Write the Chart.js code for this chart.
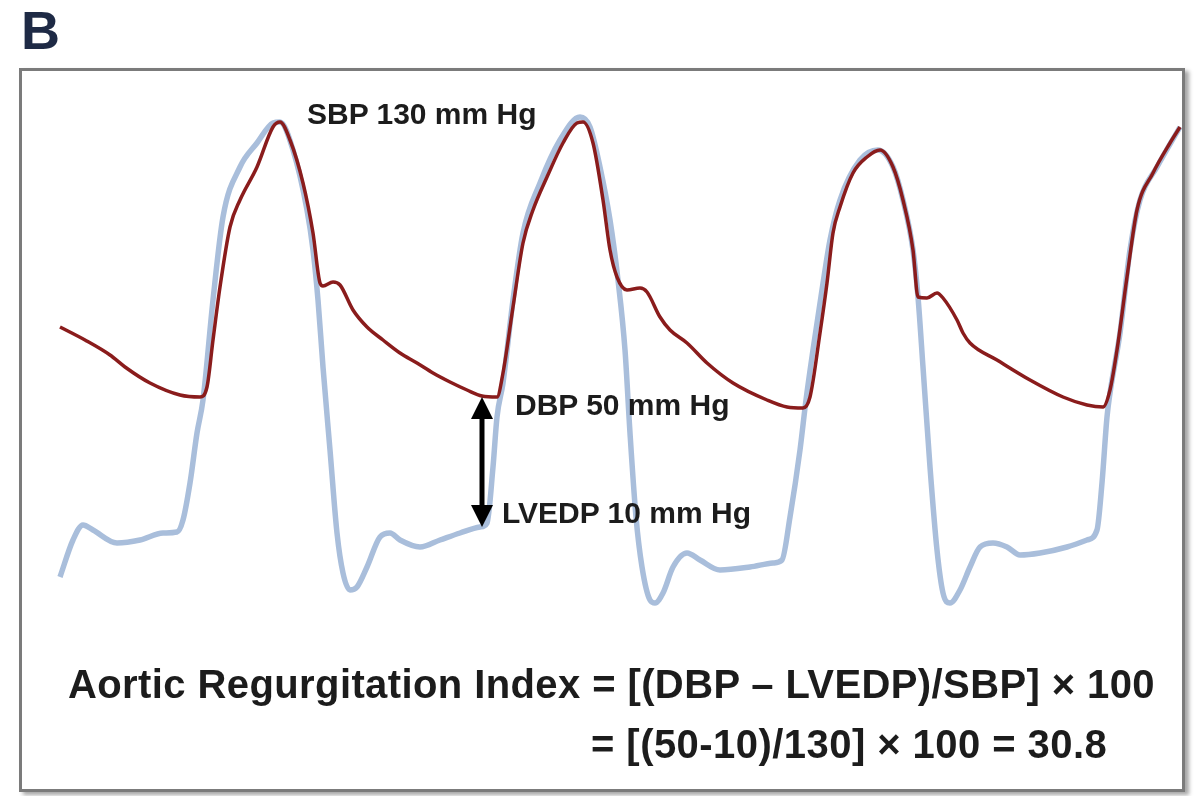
<!DOCTYPE html>
<html lang="en">
<head>
<meta charset="UTF-8">
<title>Aortic Regurgitation Index</title>
<script src="https://cdn.jsdelivr.net/npm/chart.js@4.4.1/dist/chart.umd.min.js"></script>
<style>
  body { margin: 0; width: 1198px; height: 796px; background: #fff; position: relative; overflow: hidden;
         font-family: "Liberation Sans", Arial, sans-serif; }
  #myChart { position: absolute; left: 0; top: 0; }
  .frame { position: absolute; left: 19px; top: 68px; width: 1160px; height: 718px;
           border: 3px solid #7b7b7b; box-shadow: 4px 3px 4px rgba(0,0,0,0.35); }
  .lbl { position: absolute; font-weight: bold; color: #1c1c1c; white-space: nowrap; }
  .small { font-size: 30px; line-height: 30px; }
  .big { font-size: 40px; line-height: 40px; }
  #panel { left: 21px; top: 3px; font-size: 54px; line-height: 54px; color: #1e2a45; }
</style>
</head>
<body>
<canvas id="myChart" width="1198" height="796"></canvas>
<div class="frame"></div>
<div class="lbl" id="panel">B</div>
<div class="lbl small" id="sbpLabel" style="left:307px; top:99px;"></div>
<div class="lbl small" id="dbpLabel" style="left:515px; top:390px;"></div>
<div class="lbl small" id="lvedpLabel" style="left:502px; top:498px;"></div>
<div class="lbl big" id="formula1" style="left:68px; top:664px; letter-spacing:0.4px;"></div>
<div class="lbl big" id="formula2" style="left:591px; top:724px; letter-spacing:0.45px;"></div>

<script>
// time in ms, pressure in mm Hg
const aorticTime = [100, 162.5, 225, 262.5, 325, 400, 450, 467.5, 482.5, 500, 525, 550, 592.5, 632.5, 650, 675, 707.5, 732.5, 750, 757.5, 782.5, 800, 832.5, 867.5, 907.5, 950, 992.5, 1032.5, 1075, 1117.5, 1155, 1192.5, 1207.5, 1232.5, 1257.5, 1282.5, 1317.5, 1357.5, 1392.5, 1407.5, 1432.5, 1457.5, 1475, 1492.5, 1517.5, 1550, 1567.5, 1600, 1625, 1667.5, 1717.5, 1782.5, 1867.5, 1917.5, 1957.5, 1975, 2000, 2017.5, 2032.5, 2050, 2082.5, 2117.5, 2150, 2182.5, 2207.5, 2232.5, 2245, 2267.5, 2292.5, 2307.5, 2342.5, 2357.5, 2375, 2442.5, 2525, 2607.5, 2667.5, 2707.5, 2725, 2742.5, 2767.5, 2792.5, 2832.5, 2875, 2900];
const aorticPressure = [69.9, 66, 61.5, 57.9, 53.1, 49.5, 48.9, 51.9, 66, 81.9, 99.9, 108, 117.9, 129.9, 131.4, 126, 113.1, 98.1, 83.1, 82.2, 83.4, 82.5, 75, 69.9, 66, 62.1, 59.1, 56.1, 53.4, 51, 49.2, 48.9, 56.1, 75.9, 95.1, 105, 114.9, 125.1, 131.1, 131.4, 125.1, 108, 93, 84.9, 81, 81.6, 80.4, 72.9, 69, 65.1, 59.1, 53.1, 48, 45.9, 45.6, 48.9, 68.1, 83.1, 98.1, 105.9, 116.1, 120.9, 123, 117.9, 108, 93, 78.9, 78.6, 80.1, 78.6, 72, 68.1, 65.1, 60, 54, 48.9, 46.5, 45.9, 51, 63, 84.9, 105, 116.1, 125.1, 129.9];

const lvTime = [100, 132.5, 157.5, 182.5, 242.5, 300, 357.5, 392.5, 407.5, 425, 442.5, 457.5, 482.5, 507.5, 550, 592.5, 632.5, 650, 682.5, 717.5, 732.5, 745, 757.5, 775, 792.5, 807.5, 825, 842.5, 867.5, 900, 925, 950, 1000, 1050, 1100, 1150, 1167.5, 1182.5, 1192.5, 1207.5, 1232.5, 1257.5, 1300, 1350, 1400, 1425, 1450, 1475, 1495, 1512.5, 1525, 1540, 1555, 1575, 1587.5, 1607.5, 1632.5, 1667.5, 1700, 1750, 1825, 1882.5, 1905, 1925, 1950, 1965, 1982.5, 2005, 2025, 2050, 2100, 2145, 2182.5, 2207.5, 2232.5, 2245, 2257.5, 2275, 2292.5, 2307.5, 2325, 2350, 2375, 2400, 2432.5, 2467.5, 2500, 2550, 2617.5, 2667.5, 2692.5, 2705, 2717.5, 2725, 2750, 2775, 2800, 2842.5, 2900];
const lvPressure = [-5.1, 6, 10.5, 9, 5.1, 6, 8.1, 8.4, 12, 23.1, 38.1, 48, 78, 102.9, 117.9, 125.1, 131.1, 131.4, 123, 105, 93, 78, 57.9, 33, 8.1, -3.9, -9, -8.1, -2.1, 6.9, 8.1, 6, 3.9, 6, 8.1, 9.9, 11.1, 27.9, 42.9, 53.1, 78, 98.1, 113.1, 126, 132.9, 129.9, 117.9, 102, 84, 63, 38.1, 12.9, -2.1, -12, -12.9, -9.9, -2.1, 2.1, 0, -3, -2.1, -0.9, 0, 12.9, 33, 48, 63, 81, 96, 108, 120, 123, 117.9, 108, 93, 78.9, 57.9, 27.9, 3, -9.9, -12.9, -9, -2.1, 3.9, 5.1, 3.9, 1.5, 2.1, 3.9, 6, 9, 23.1, 42.9, 50.1, 68.1, 93, 108, 117.9, 129.9];

const SBP = 130;
const DBP = 50;
const LVEDP = 10;

// double arrow between the aortic diastolic point and the LV end-diastolic point
const arrowTime = 1155;
const arrowTop = 48.9;
const arrowBottom = 9.9;

const ari = ((DBP - LVEDP) / SBP * 100).toFixed(1);
document.getElementById('sbpLabel').textContent = 'SBP ' + SBP + ' mm Hg';
document.getElementById('dbpLabel').textContent = 'DBP ' + DBP + ' mm Hg';
document.getElementById('lvedpLabel').textContent = 'LVEDP ' + LVEDP + ' mm Hg';
document.getElementById('formula1').textContent = 'Aortic Regurgitation Index = [(DBP \u2013 LVEDP)/SBP] \u00d7 100';
document.getElementById('formula2').textContent = '= [(' + DBP + '-' + LVEDP + ')/' + SBP + '] \u00d7 100 = ' + ari;

const arrowPlugin = {
    id: 'arrow',
    afterDatasetsDraw(chart) {
        const { ctx, scales: { x, y } } = chart;
        const px = x.getPixelForValue(arrowTime);
        const y1 = y.getPixelForValue(arrowTop);
        const y2 = y.getPixelForValue(arrowBottom);
        const head = 22;
        ctx.save();
        ctx.strokeStyle = '#000';
        ctx.fillStyle = '#000';
        ctx.lineWidth = 5;
        ctx.beginPath();
        ctx.moveTo(px, y1 + head - 2);
        ctx.lineTo(px, y2 - head + 2);
        ctx.stroke();
        ctx.beginPath();
        ctx.moveTo(px, y1);
        ctx.lineTo(px - 11, y1 + head);
        ctx.lineTo(px + 11, y1 + head);
        ctx.closePath();
        ctx.fill();
        ctx.beginPath();
        ctx.moveTo(px, y2);
        ctx.lineTo(px - 11, y2 - head);
        ctx.lineTo(px + 11, y2 - head);
        ctx.closePath();
        ctx.fill();
        ctx.restore();
    }
};

const ctx = document.getElementById('myChart').getContext('2d');
new Chart(ctx, {
    type: 'line',
    data: {
        datasets: [{
            label: 'Aortic pressure',
            data: aorticTime.map((t, i) => ({ x: t, y: aorticPressure[i] })),
            borderColor: '#8a1c1c',
            borderWidth: 3.5,
            pointRadius: 0,
            cubicInterpolationMode: 'monotone',
            order: 0
        }, {
            label: 'LV pressure',
            data: lvTime.map((t, i) => ({ x: t, y: lvPressure[i] })),
            borderColor: '#a9bedb',
            borderWidth: 5.5,
            pointRadius: 0,
            cubicInterpolationMode: 'monotone',
            order: 1
        }]
    },
    options: {
        responsive: false,
        animation: false,
        layout: { padding: { left: 20, top: 68, right: 15, bottom: 6 } },
        scales: {
            x: { type: 'linear', min: 0, max: 2907.5, display: false },
            y: { min: -69, max: 147.6, display: false }
        },
        plugins: {
            legend: { display: false },
            tooltip: { enabled: false }
        }
    },
    plugins: [arrowPlugin]
});
</script>
</body>
</html>
